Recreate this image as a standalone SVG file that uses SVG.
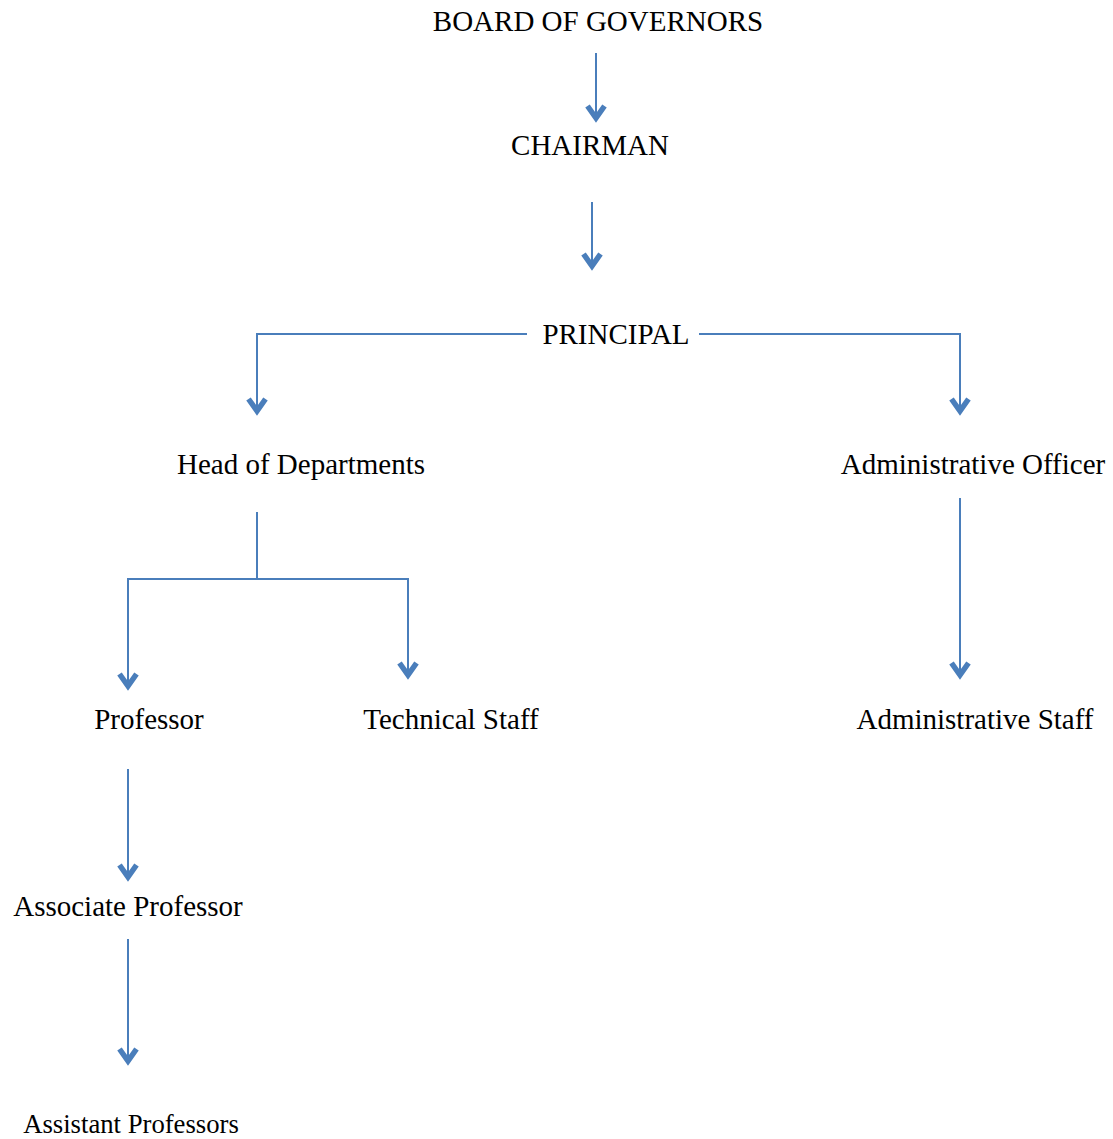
<svg xmlns="http://www.w3.org/2000/svg" width="1113" height="1139" viewBox="0 0 1113 1139">
<style>
.t{font-family:"Liberation Serif","Times New Roman",serif;font-size:29px;fill:#000;text-anchor:middle}
.c{fill:none;stroke:#4a7ebb;stroke-width:2}
</style>
<defs>
<marker id="ah" markerUnits="userSpaceOnUse" viewBox="-20 -14 24 28" refX="0" refY="0" markerWidth="24" markerHeight="28" orient="auto">
<path d="M-14,-8.5 L-2,0 L-14,8.5" fill="none" stroke="#4a7ebb" stroke-width="5.5"/>
</marker>
</defs>
<rect width="1113" height="1139" fill="#fff"/>
<g id="connectors">
<path class="c" d="M596,53 V120" marker-end="url(#ah)"/>
<path class="c" d="M592,202 V268" marker-end="url(#ah)"/>
<path class="c" d="M527,334 H257 V413" marker-end="url(#ah)"/>
<path class="c" d="M699,334 H960 V413" marker-end="url(#ah)"/>
<path class="c" d="M257,512 V579"/>
<path class="c" d="M257,579 H128 V688" marker-end="url(#ah)"/>
<path class="c" d="M257,579 H408 V677" marker-end="url(#ah)"/>
<path class="c" d="M960,498 V677" marker-end="url(#ah)"/>
<path class="c" d="M128,769 V879" marker-end="url(#ah)"/>
<path class="c" d="M128,939 V1063" marker-end="url(#ah)"/>
</g>
<g id="board"><text class="t" x="598" y="31">BOARD OF GOVERNORS</text></g>
<g id="chairman"><text class="t" x="590" y="155">CHAIRMAN</text></g>
<g id="principal"><text class="t" x="616" y="344">PRINCIPAL</text></g>
<g id="hod"><text class="t" x="301" y="474">Head of Departments</text></g>
<g id="admin-officer"><text class="t" x="973" y="474">Administrative Officer</text></g>
<g id="professor"><text class="t" x="149" y="729">Professor</text></g>
<g id="technical-staff"><text class="t" x="451" y="729">Technical Staff</text></g>
<g id="admin-staff"><text class="t" x="975" y="729">Administrative Staff</text></g>
<g id="associate"><text class="t" x="128" y="916">Associate Professor</text></g>
<g id="assistant"><text class="t" x="131" y="1133" style="font-size:26.7px">Assistant Professors</text></g>
</svg>
